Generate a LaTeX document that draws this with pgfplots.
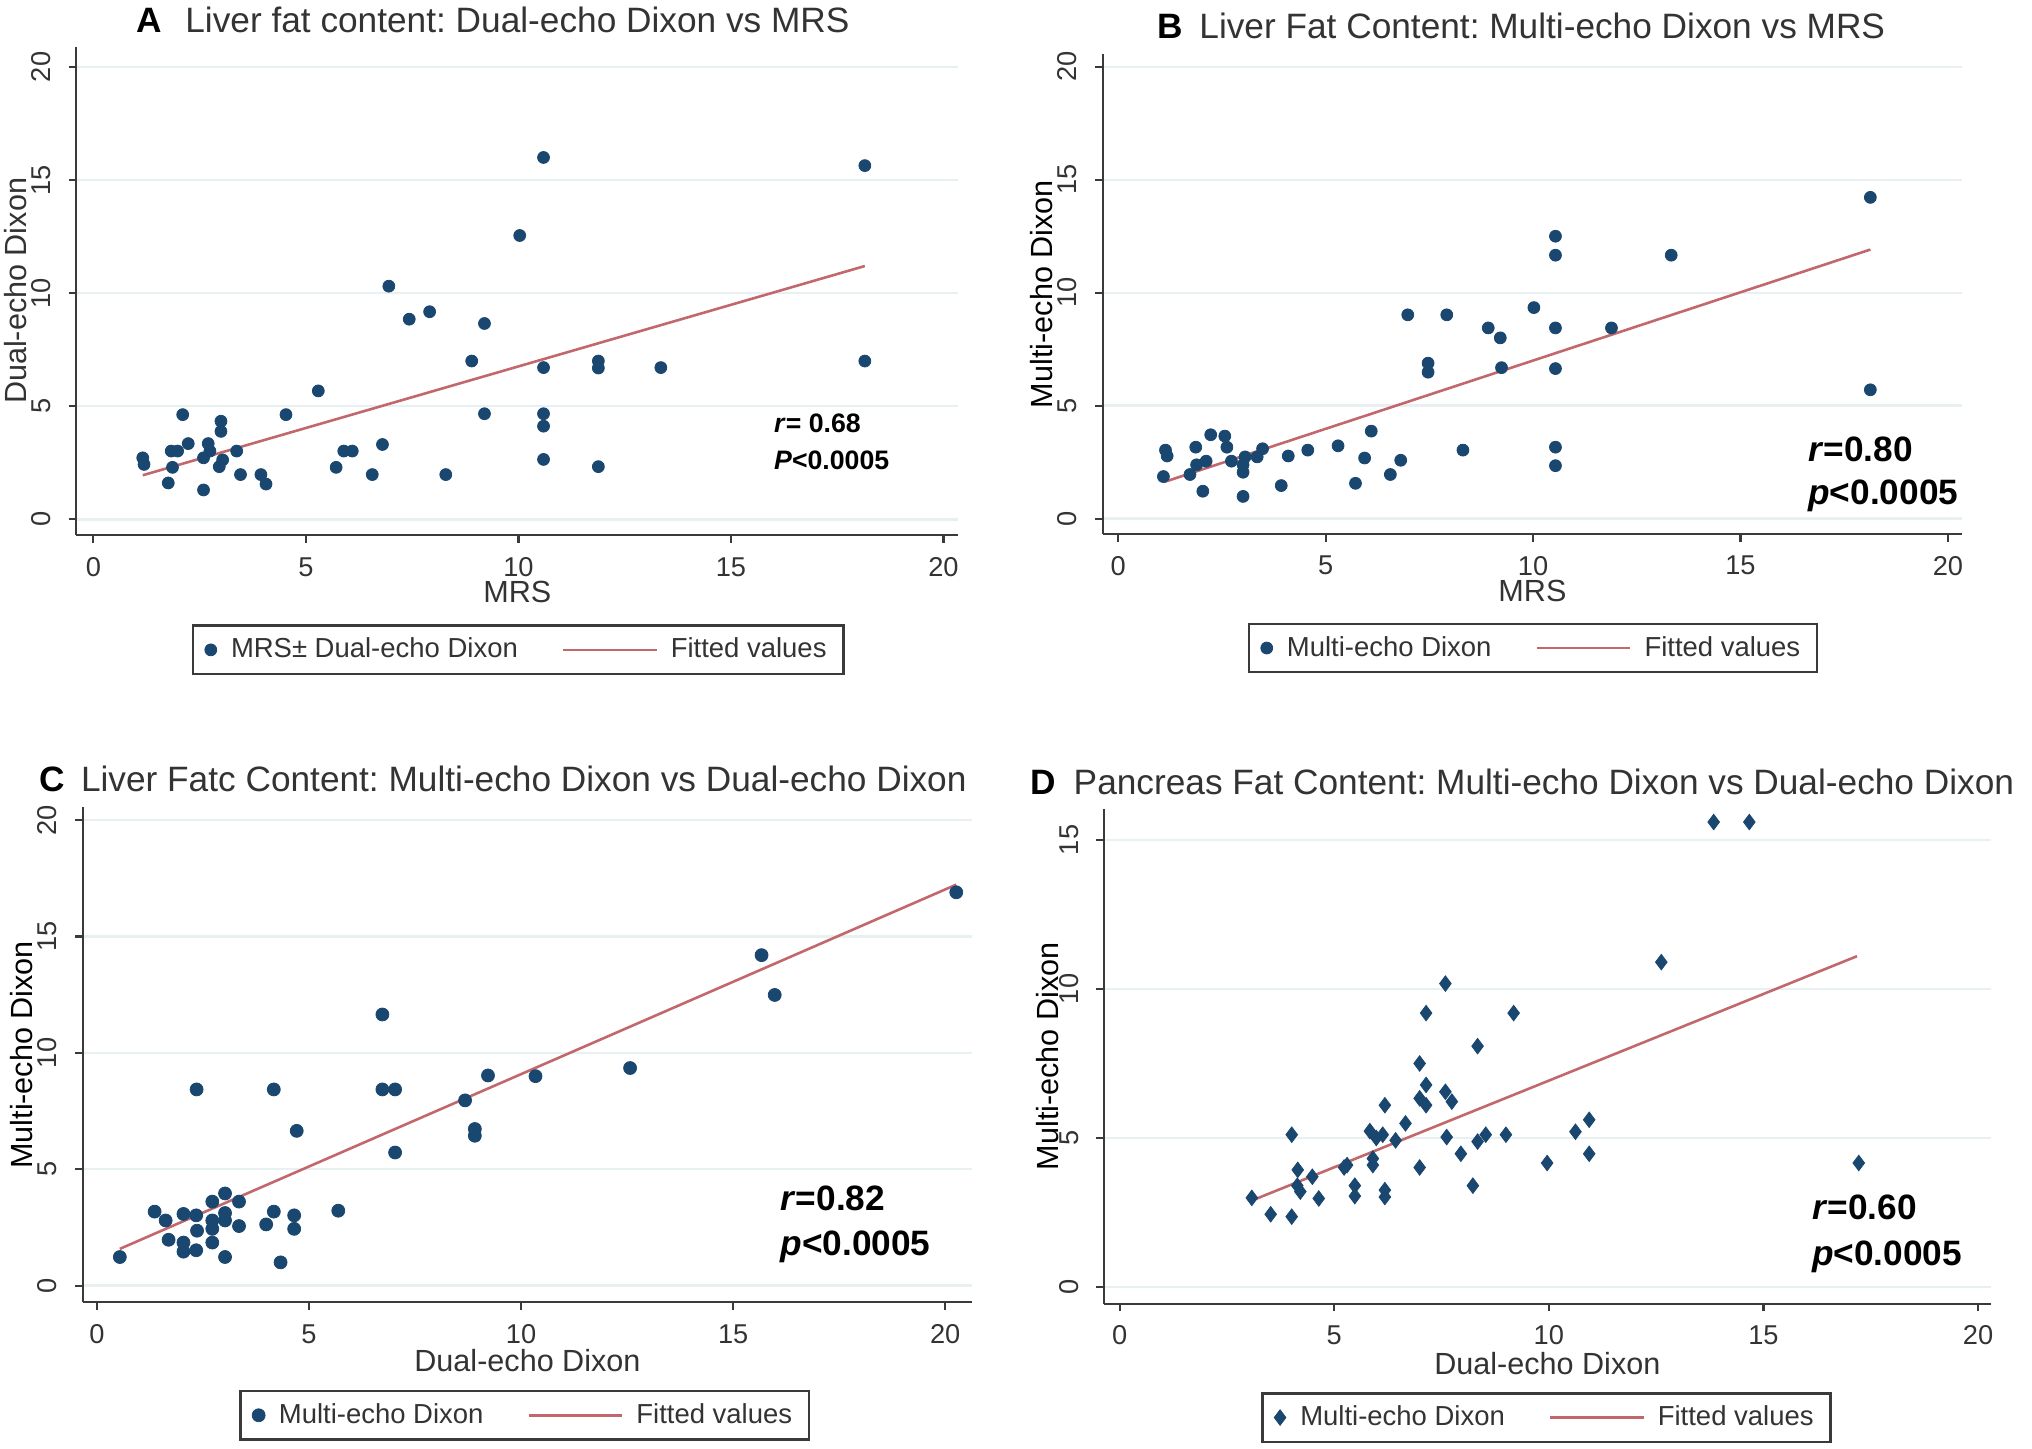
\documentclass[border=0pt]{standalone}
\usepackage{pgfplots}
\pgfplotsset{compat=1.18}
\usepackage{fontspec}
\setmainfont{Liberation Sans}
\frenchspacing
\definecolor{navy}{HTML}{1A476F}
\definecolor{fitc}{HTML}{C2676C}
\definecolor{gridc}{HTML}{E8F0F2}
\definecolor{axc}{HTML}{3A3A3A}
\definecolor{txtc}{HTML}{333333}
\pgfplotsset{
  myax/.style={
    scale only axis,
    axis x line*=bottom, axis y line*=left,
    axis line style={draw=axc, line width=0.8pt, -},
    tick style={draw=axc, line width=0.8pt},
    tick align=outside, major tick length=3pt,
    xtick={0,5,10,15,20},
    ymajorgrids, grid style={draw=gridc, line width=0.9pt},
    ticklabel style={font=\fontsize{10.5}{12}\selectfont, text=txtc},
    yticklabel style={rotate=90, anchor=south},
    xticklabel shift=2pt,
    yticklabel shift=3.4pt,
    /pgf/number format/assume math mode=true,
    label style={font=\fontsize{11.8}{14}\selectfont, text=txtc},
    clip=false,
    legend columns=2,
    legend style={draw=axc, line width=0.9pt, fill=white,
      font=\fontsize{10.6}{12}\selectfont, text=txtc,
      inner xsep=4.5pt, inner ysep=2.75pt,
      nodes={inner sep=2pt},
      /tikz/every even column/.append style={column sep=15pt},
      anchor=center},
    legend cell align=left,
  },
  pts/.style={only marks, mark=*, mark size=2.3pt, color=navy,
    mark options={fill=navy, draw=navy, line width=0.3pt},
    legend image code/.code={\draw[##1] plot coordinates {(0pt,0pt)}; \path[draw=none, fill=none] (-2.3pt,0pt) -- (5.8pt,0pt);}},
  fit/.style={no marks, color=fitc, line width=1pt,
    legend image code/.code={\draw[##1] (0pt,0pt) -- (36pt,0pt); \path[draw=none, fill=none] (0pt,0pt) -- (39.5pt,0pt);}},
}
\begin{document}
\begin{tikzpicture}
\useasboundingbox (0pt,0pt) rectangle (784pt,559pt);
% ---------------- A ----------------
\begin{axis}[myax, at={(29.5pt,352.5pt)}, anchor=south west,
  width=340.25pt, height=188.5pt,
  xmin=-0.4, xmax=20.35, ymin=-0.7, ymax=20.9,
  ytick={0,5,10,15,20},
  xlabel={MRS}, ylabel={Dual-echo Dixon},
  xlabel style={at={(axis description cs:0.5,-0.1167)}, anchor=center},
  ylabel style={at={(axis description cs:-0.069,0.5)}, anchor=center, rotate=0},
  legend style={at={(0.501,-0.2347)}},
]
\addplot[pts] coordinates {
(10.59,16.0) (18.15,15.64) (10.03,12.55) (6.95,10.31) (7.43,8.85) (7.91,9.18)
(9.2,8.66) (8.9,7.0) (10.59,6.71) (11.88,7.0) (11.88,6.69) (13.35,6.71)
(18.15,7.0) (5.29,5.68) (2.1,4.63) (4.53,4.63) (9.2,4.67) (10.59,4.67)
(10.59,4.12) (3.0,4.34) (3.0,3.89) (2.23,3.35) (1.98,3.02) (1.83,3.02)
(2.7,3.35) (2.74,3.02) (2.59,2.72) (3.04,2.63) (2.96,2.33) (3.37,3.02)
(1.16,2.72) (1.19,2.43) (1.86,2.3) (1.76,1.61) (2.59,1.3) (3.46,1.98)
(3.94,1.98) (4.06,1.56) (5.71,2.3) (5.89,3.02) (6.09,3.02) (6.8,3.31)
(6.56,1.98) (8.29,1.98) (10.59,2.65) (11.88,2.33)
};
\addlegendentry{MRS\textpm{} Dual-echo Dixon}
\addplot[fit] coordinates {(1.16,1.95) (18.15,11.2)};
\addlegendentry{Fitted values}
\end{axis}
% ---------------- B ----------------
\begin{axis}[myax, at={(425.5pt,353pt)}, anchor=south west,
  width=331.5pt, height=185pt,
  xmin=-0.37, xmax=20.34, ymin=-0.68, ymax=20.55,
  ytick={0,5,10,15,20},
  xlabel={MRS}, ylabel={Multi-echo Dixon},
  xlabel style={at={(axis description cs:0.5,-0.119)}, anchor=center},
  ylabel style={at={(axis description cs:-0.0709,0.5)}, anchor=center, text=black},
  legend style={at={(0.5008,-0.238)}},
]
\addplot[pts] coordinates {
(18.13,14.22) (10.54,12.5) (10.54,11.66) (13.33,11.66) (10.02,9.34) (6.98,9.02)
(7.92,9.02) (8.92,8.44) (9.21,8.0) (10.54,8.44) (11.89,8.44) (7.47,6.88)
(7.47,6.48) (9.24,6.68) (10.54,6.64) (18.13,5.70) (6.1,3.87) (2.23,3.71)
(2.57,3.65) (2.62,3.16) (1.87,3.16) (1.14,3.03) (1.18,2.77) (3.48,3.09)
(3.35,2.73) (4.1,2.77) (4.57,3.03) (5.3,3.22) (5.94,2.68) (6.81,2.58)
(8.31,3.03) (10.54,3.16) (10.54,2.34) (3.06,2.73) (2.73,2.54) (3.01,2.38)
(3.01,2.05) (2.12,2.54) (1.89,2.38) (1.73,1.95) (1.09,1.86) (2.04,1.21)
(3.01,0.98) (3.93,1.46) (5.72,1.56) (6.56,1.95)
};
\addlegendentry{Multi-echo Dixon}
\addplot[fit] coordinates {(1.11,1.62) (18.13,11.91)};
\addlegendentry{Fitted values}
\end{axis}
% ---------------- C ----------------
\begin{axis}[myax, at={(32pt,56.5pt)}, anchor=south west,
  width=343pt, height=191pt,
  xmin=-0.33, xmax=20.63, ymin=-0.72, ymax=20.55,
  ytick={0,5,10,15,20},
  xlabel={Dual-echo Dixon}, ylabel={Multi-echo Dixon},
  xlabel style={at={(axis description cs:0.5,-0.118)}, anchor=center},
  ylabel style={at={(axis description cs:-0.0685,0.5)}, anchor=center, text=black},
  legend style={at={(0.497,-0.228)}},
]
\addplot[pts, mark size=2.5pt] coordinates {
(20.26,16.9) (15.67,14.2) (15.98,12.49) (6.73,11.65) (12.57,9.35) (9.22,9.03)
(10.34,9.0) (2.35,8.43) (4.17,8.43) (6.73,8.43) (7.03,8.43) (8.68,7.96)
(8.91,6.73) (8.91,6.44) (4.71,6.65) (7.03,5.72) (5.69,3.22) (3.02,3.96)
(2.72,3.61) (3.35,3.61) (1.36,3.18) (1.62,2.8) (2.04,3.08) (2.34,3.02)
(3.02,3.12) (3.02,2.8) (2.72,2.8) (3.35,2.56) (2.72,2.44) (2.36,2.36)
(3.99,2.63) (4.17,3.18) (4.65,3.02) (4.65,2.44) (1.69,1.97) (2.04,1.85)
(2.04,1.46) (2.34,1.52) (2.72,1.85) (3.02,1.23) (4.33,1.0) (0.54,1.23)
};
\addlegendentry{Multi-echo Dixon}
\addplot[fit] coordinates {(0.54,1.58) (20.26,17.23)};
\addlegendentry{Fitted values}
\end{axis}
% ---------------- D ----------------
\begin{axis}[myax, at={(426pt,56pt)}, anchor=south west,
  width=342pt, height=191pt,
  xmin=-0.36, xmax=20.29, ymin=-0.56, ymax=16.05,
  ytick={0,5,10,15},
  xlabel={Dual-echo Dixon}, ylabel={Multi-echo Dixon},
  xlabel style={at={(axis description cs:0.5,-0.12)}, anchor=center},
  ylabel style={at={(axis description cs:-0.0643,0.5)}, anchor=center, text=black},
  legend style={at={(0.499,-0.230)}},
]
\addplot[pts, mark=diamond*, mark size=3pt] coordinates {
(13.84,15.6) (14.67,15.6) (12.62,10.9) (7.59,10.18) (7.14,9.19) (9.18,9.19)
(8.34,8.08) (6.99,7.5) (7.14,6.78) (6.99,6.33) (7.14,6.1) (7.59,6.55)
(7.74,6.22) (6.18,6.1) (6.66,5.49) (4.01,5.11) (5.83,5.23) (6.13,5.11)
(5.98,5.0) (6.43,4.92) (7.62,5.03) (8.34,4.88) (8.53,5.11) (9.0,5.11)
(10.62,5.21) (10.94,5.61) (10.94,4.47) (7.95,4.47) (9.96,4.16) (17.22,4.16)
(6.99,4.01) (5.3,4.09) (5.23,4.01) (5.9,4.09) (5.9,4.31) (4.15,3.93)
(4.49,3.7) (4.14,3.4) (4.21,3.2) (5.48,3.4) (5.48,3.05) (6.18,3.25)
(6.18,3.02) (4.64,2.97) (8.23,3.4) (3.08,2.99) (3.52,2.44) (4.01,2.36)
};
\addlegendentry{Multi-echo Dixon}
\addplot[fit] coordinates {(3.08,2.9) (17.18,11.1)};
\addlegendentry{Fitted values}
\end{axis}
% ---------------- titles ----------------
\begin{scope}[every node/.style={anchor=west, inner sep=0pt, text=txtc, font=\fontsize{13.6}{16}\selectfont}]
\node at (52.5pt,551.5pt) {\textcolor{black}{\textbf{A}}\hspace{9pt}Liver fat content: Dual-echo Dixon vs MRS};
\node at (446.5pt,549pt) {\textcolor{black}{\textbf{B}}\hspace{6.25pt}Liver Fat Content: Multi-echo Dixon vs MRS};
\node at (15pt,258.5pt) {\textcolor{black}{\textbf{C}}\hspace{6.25pt}Liver Fatc Content: Multi-echo Dixon vs Dual-echo Dixon};
\node at (397.5pt,257.5pt) {\textcolor{black}{\textbf{D}}\hspace{6.75pt}Pancreas Fat Content: Multi-echo Dixon vs Dual-echo Dixon};
\end{scope}
% ---------------- statistics ----------------
\begin{scope}[every node/.style={anchor=west, inner sep=0pt, text=black}]
\node[font=\bfseries\fontsize{10.3}{12}\selectfont] at (298.5pt,395.5pt) {\textit{r}= 0.68};
\node[font=\bfseries\fontsize{10.3}{12}\selectfont] at (298.5pt,381.5pt) {\textit{P}<0.0005};
\node[font=\bfseries\fontsize{13.6}{16}\selectfont] at (697.5pt,385.5pt) {\textit{r}=0.80};
\node[font=\bfseries\fontsize{13.6}{16}\selectfont] at (697.5pt,367.5pt) {\textit{p}<0.0005};
\node[font=\bfseries\fontsize{13.6}{16}\selectfont] at (301pt,96.5pt) {\textit{r}=0.82};
\node[font=\bfseries\fontsize{13.6}{16}\selectfont] at (301pt,78pt) {\textit{p}<0.0005};
\node[font=\bfseries\fontsize{13.6}{16}\selectfont] at (699pt,93pt) {\textit{r}=0.60};
\node[font=\bfseries\fontsize{13.6}{16}\selectfont] at (699pt,74pt) {\textit{p}<0.0005};
\end{scope}
\end{tikzpicture}
\end{document}
